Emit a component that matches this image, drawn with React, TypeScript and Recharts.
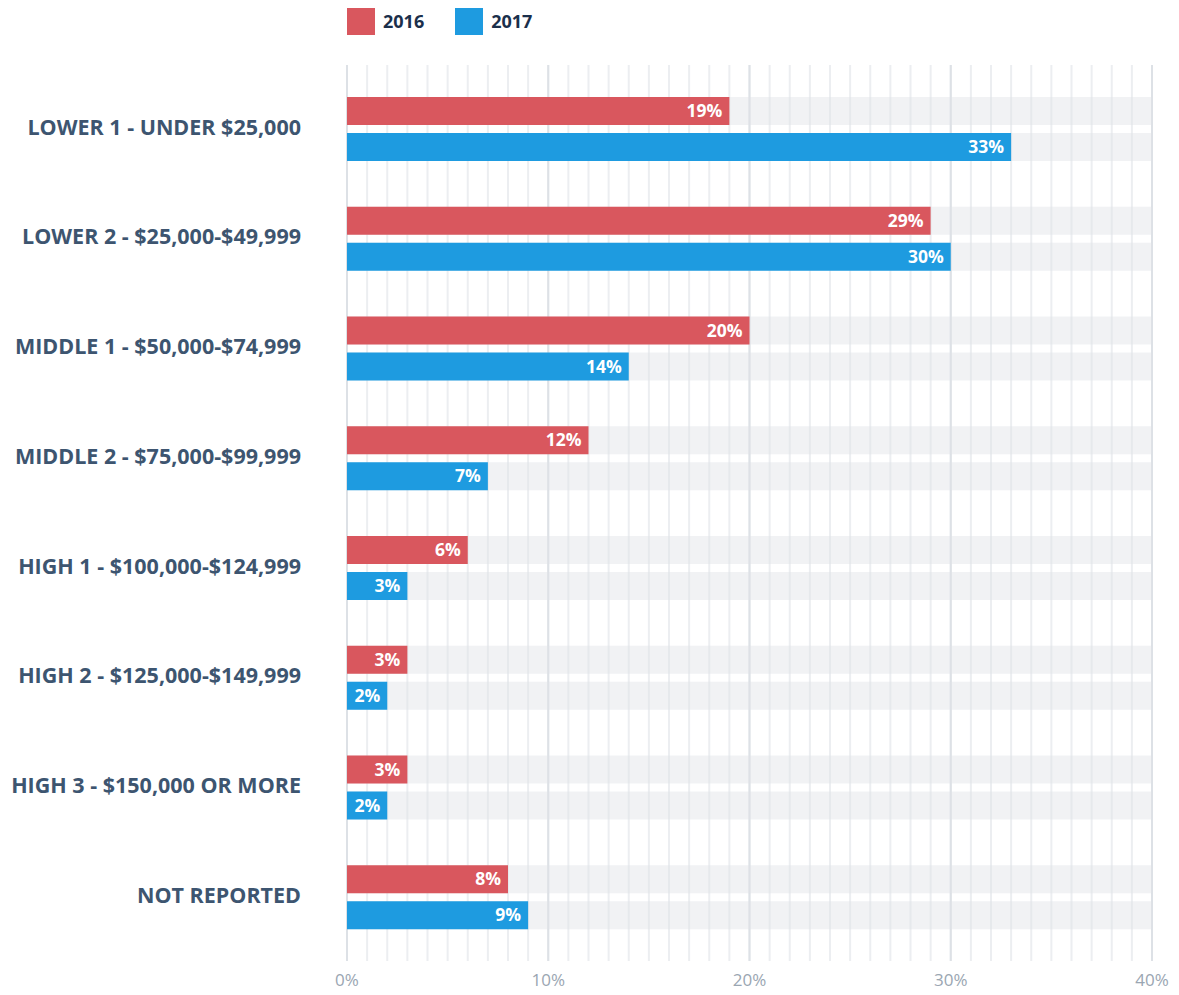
import { BarChart, Bar, XAxis, YAxis, CartesianGrid, Legend, LabelList } from 'recharts';

const categories = [
  'LOWER 1 - UNDER $25,000',
  'LOWER 2 - $25,000-$49,999',
  'MIDDLE 1 - $50,000-$74,999',
  'MIDDLE 2 - $75,000-$99,999',
  'HIGH 1 - $100,000-$124,999',
  'HIGH 2 - $125,000-$149,999',
  'HIGH 3 - $150,000 OR MORE',
  'NOT REPORTED',
];
const values2016 = [19, 29, 20, 12, 6, 3, 3, 8];
const values2017 = [33, 30, 14, 7, 3, 2, 2, 9];
const xTicks = [0, 10, 20, 30, 40];
const minorGrid = [
  0, 1, 2, 3, 4, 5, 6, 7, 8, 9, 10, 11, 12, 13, 14, 15, 16, 17, 18, 19, 20,
  21, 22, 23, 24, 25, 26, 27, 28, 29, 30, 31, 32, 33, 34, 35, 36, 37, 38, 39, 40,
];

const series = [
  { key: 'y2016', name: '2016', color: '#d9575e' },
  { key: 'y2017', name: '2017', color: '#1e9be0' },
];

const data = categories.map((name, i) => ({ name, y2016: values2016[i], y2017: values2017[i] }));

const gridAt = (vals: number[]) => ({ xAxis, offset }: any) =>
  vals.map((v) =>
    xAxis && typeof xAxis.scale === 'function' ? xAxis.scale(v) : offset.left + (v / 40) * offset.width
  );

const LegendRow = () => (
  <div style={{ height: 65, paddingLeft: 347, paddingTop: 7, boxSizing: 'border-box', display: 'flex' }}>
    {series.map((s) => (
      <div key={s.key} style={{ display: 'flex', alignItems: 'center', height: 28, marginRight: 31 }}>
        <span style={{ width: 28, height: 28, background: s.color, display: 'inline-block' }} />
        <span style={{ marginLeft: 8, fontSize: 18, fontWeight: 700, color: '#1b2f4b' }}>{s.name}</span>
      </div>
    ))}
  </div>
);

export default function App() {
  return (
    <div style={{ margin: '-8px 0 0 -8px', width: 1179, height: 995, fontFamily: '"Open Sans", sans-serif', background: '#fff' }}>
      <BarChart
        width={1179}
        height={995}
        data={data}
        layout="vertical"
        margin={{ top: 0, right: 27, bottom: 0, left: 0 }}
        barSize={28}
        barGap={8}
      >
        <Legend verticalAlign="top" align="left" wrapperStyle={{ top: 0, left: 0, width: 1179 }} content={<LegendRow />} />
        <CartesianGrid horizontal={false} stroke="#eceef1" strokeWidth={2} verticalCoordinatesGenerator={gridAt(minorGrid)} />
        <CartesianGrid horizontal={false} stroke="#dde1e6" strokeWidth={2} verticalCoordinatesGenerator={gridAt(xTicks)} />
        <XAxis
          type="number"
          domain={[0, 40]}
          ticks={xTicks}
          tickFormatter={(v) => `${v}%`}
          axisLine={false}
          tickLine={false}
          tickSize={0}
          tickMargin={13}
          height={34}
          tick={{ fill: '#9aa6b2', fontSize: 17 }}
        />
        <YAxis
          type="category"
          dataKey="name"
          width={347}
          axisLine={false}
          tickLine={false}
          tickSize={0}
          tickMargin={46}
          padding={{ top: 9, bottom: 9 }}
          interval={0}
          tick={{ fill: '#3d5570', fontSize: 21.5, fontWeight: 700, dy: -2 }}
        />
        {series.map((s) => (
          <Bar
            key={s.key}
            dataKey={s.key}
            name={s.name}
            fill={s.color}
            isAnimationActive={false}
            background={{ fill: '#dfe2e6', fillOpacity: 0.45 }}
          >
            <LabelList
              dataKey={s.key}
              position="insideRight"
              offset={7}
              formatter={(v: any) => `${v}%`}
              style={{ fill: '#fff', fontSize: 17.5, fontWeight: 700 }}
            />
          </Bar>
        ))}
      </BarChart>
    </div>
  );
}
